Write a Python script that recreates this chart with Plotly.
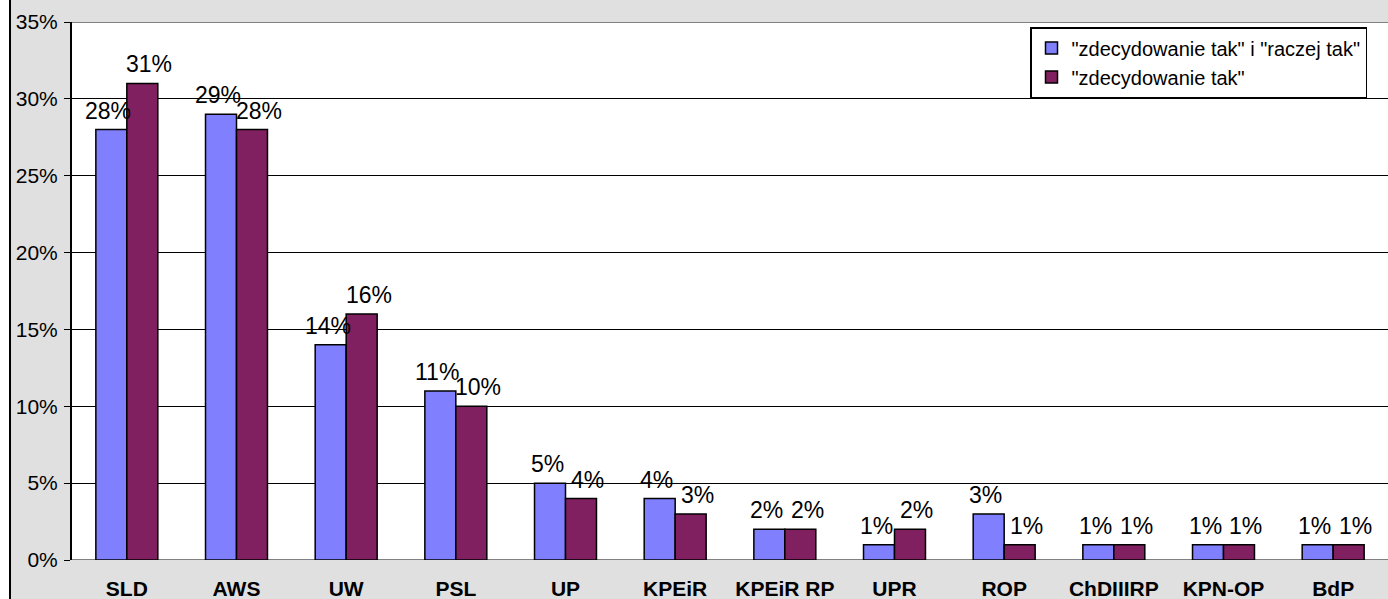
import plotly.graph_objects as go

categories = ["SLD", "AWS", "UW", "PSL", "UP", "KPEiR", "KPEiR RP", "UPR", "ROP", "ChDIIIRP", "KPN-OP", "BdP"]
series1_name = '"zdecydowanie tak" i "raczej tak"'
series1 = [28, 29, 14, 11, 5, 4, 2, 1, 3, 1, 1, 1]
series2_name = '"zdecydowanie tak"'
series2 = [31, 28, 16, 10, 4, 3, 2, 2, 1, 1, 1, 1]
y_ticks = [0, 5, 10, 15, 20, 25, 30, 35]

FONT = "Arial, Liberation Sans, sans-serif"
W, H = 1388, 599
L, R, T, B = 72, 0, 22, 39
pw = W - L - R
ph = H - T - B
BARGAP = 0.435
bar_px = pw / len(categories) * (1 - BARGAP) / 2

fig = go.Figure()
annotations = []
for i, (name, vals, col) in enumerate([(series1_name, series1, "#8080ff"), (series2_name, series2, "#802060")]):
    fig.add_trace(go.Bar(
        x=categories, y=vals, name=name,
        marker=dict(color=col, line=dict(color="black", width=1.5)),
    ))
    sign = -1 if i == 0 else 1
    extra = -3 if i == 0 else 7
    for c, v in zip(categories, vals):
        annotations.append(dict(
            x=c, y=v, xref="x", yref="y", text=f"{v}%", showarrow=False,
            xshift=sign * bar_px / 2 + extra, yshift=4, yanchor="bottom",
            font=dict(family=FONT, size=23, color="black"),
        ))

fig.update_layout(
    width=W, height=H,
    margin=dict(l=L, r=R, t=T, b=B, pad=0),
    paper_bgcolor="#e0e0e0", plot_bgcolor="white",
    barmode="group", bargap=BARGAP, bargroupgap=0,
    font=dict(family=FONT, color="black"),
    annotations=annotations,
    legend=dict(x=(1030 - L) / pw, y=1 - (27 - T) / ph, xanchor="left", yanchor="top",
                bgcolor="white", bordercolor="black", borderwidth=1.5,
                font=dict(size=20, family=FONT), itemwidth=30, tracegroupgap=0),
    showlegend=True,
    xaxis=dict(tickmode="array", tickvals=categories,
               ticktext=[f"<b>{c}</b>" for c in categories],
               tickfont=dict(size=21, family=FONT), ticks="", ticklabelstandoff=14,
               showline=False, showgrid=False),
    yaxis=dict(range=[0, 35], tickvals=y_ticks, ticktext=[f"{t}%" for t in y_ticks],
               tickfont=dict(size=21, family=FONT), ticks="outside", ticklen=6, tickcolor="black",
               ticklabelstandoff=2,
               showline=True, linecolor="black", linewidth=2,
               showgrid=True, gridcolor="black", gridwidth=1, zeroline=False),
    shapes=[
        dict(type="line", xref="paper", yref="y", x0=0, x1=1, y0=35, y1=35, line=dict(color="#808080", width=2)),
        dict(type="line", xref="paper", yref="y", x0=0, x1=1, y0=0, y1=0, line=dict(color="#808080", width=2), layer="below"),
        dict(type="rect", xref="paper", yref="paper", x0=-L / pw, x1=(9 - L) / pw, y0=-2, y1=2,
             fillcolor="white", line=dict(width=0)),
        dict(type="line", xref="paper", yref="paper", x0=(10 - L) / pw, x1=(10 - L) / pw, y0=-2, y1=2,
             line=dict(color="black", width=2)),
    ],
)
fig.write_html("out.html", config={"displayModeBar": False},
               post_script="document.body.style.margin='0px';document.body.style.overflow='hidden';")
